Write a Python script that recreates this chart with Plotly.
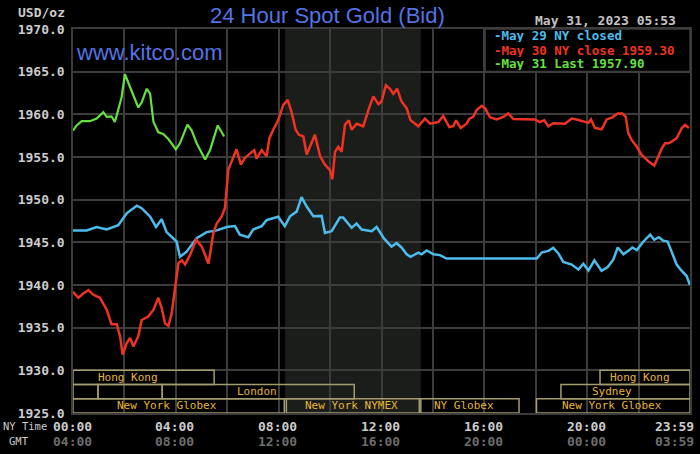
import plotly.graph_objects as go

# hours after midnight NY time
may29_t = [0, 0.53, 0.92, 1.31, 1.76, 2.09, 2.48, 2.67, 3.0, 3.23, 3.45, 3.64, 4.03, 4.16, 4.42,
           4.81, 5.2, 5.59, 5.98, 6.3, 6.49, 6.82, 7.01, 7.34, 7.53, 7.98, 8.24, 8.44, 8.7, 8.89,
           9.09, 9.35, 9.67, 9.8, 10.06, 10.38, 10.51, 10.84, 11.03, 11.23, 11.62, 11.81, 12.11,
           12.39, 12.59, 12.78, 12.98, 13.13, 13.43, 13.56, 13.76, 14.02, 14.27, 14.53, 18.04,
           18.23, 18.49, 18.68, 18.88, 19.07, 19.4, 19.66, 19.85, 20.05, 20.28, 20.56, 20.8,
           21.02, 21.19, 21.41, 21.6, 21.76, 21.93, 22.19, 22.45, 22.61, 22.79, 22.96, 23.13,
           23.29, 23.48, 23.68, 23.87, 24.0]
may29_v = [1946.4, 1946.4, 1946.8, 1946.5, 1947.0, 1948.4, 1949.3, 1949.0, 1948.0, 1946.8, 1947.7,
           1946.2, 1945.1, 1943.3, 1943.9, 1945.5, 1946.2, 1946.4, 1946.8, 1946.9, 1945.9, 1945.6,
           1946.5, 1946.9, 1947.6, 1948.0, 1946.9, 1948.05, 1948.6, 1950.3, 1949.2, 1948.05,
           1948.1, 1946.1, 1946.3, 1947.9, 1947.9, 1946.7, 1947.2, 1946.5, 1946.3, 1946.8, 1945.4,
           1944.5, 1944.9, 1944.4, 1943.6, 1943.3, 1943.8, 1943.6, 1944.05, 1943.6, 1943.5,
           1943.1, 1943.1, 1943.8, 1944.0, 1944.35, 1943.7, 1942.7, 1942.4, 1941.8, 1942.5,
           1941.7, 1942.9, 1941.65, 1942.1, 1943.0, 1944.4, 1943.6, 1944.0, 1944.4, 1944.1,
           1945.1, 1945.9, 1945.3, 1945.6, 1945.2, 1945.1, 1943.8, 1942.4, 1941.65, 1941.05, 1940.0]

may30_t = [0, 0.21, 0.4, 0.6, 0.79, 1.05, 1.31, 1.5, 1.7, 1.83, 1.93, 2.09, 2.22, 2.35, 2.54, 2.67,
           2.93, 3.13, 3.32, 3.45, 3.58, 3.71, 3.84, 3.97, 4.1, 4.23, 4.36, 4.55, 4.79, 5.01, 5.2,
           5.27, 5.46, 5.59, 5.78, 5.91, 6.04, 6.17, 6.36, 6.53, 6.69, 6.88, 7.05, 7.14, 7.34,
           7.53, 7.64, 7.79, 7.98, 8.18, 8.35, 8.5, 8.66, 8.79, 8.96, 9.09, 9.26, 9.41, 9.61, 9.8,
           9.99, 10.09, 10.19, 10.32, 10.45, 10.58, 10.73, 10.84, 11.03, 11.29, 11.49, 11.68,
           11.88, 12.0, 12.17, 12.33, 12.46, 12.61, 12.78, 12.98, 13.13, 13.43, 13.69, 13.89,
           14.21, 14.4, 14.64, 14.79, 14.9, 15.08, 15.31, 15.42, 15.57, 15.7, 15.9, 16.03, 16.22,
           16.48, 16.74, 16.93, 17.13, 17.65, 17.97, 18.16, 18.33, 18.49, 18.68, 19.14, 19.4,
           19.59, 20.05, 20.15, 20.3, 20.56, 20.76, 20.98, 21.19, 21.37, 21.5, 21.6, 21.73,
           21.93, 22.12, 22.38, 22.61, 22.77, 22.9, 23.03, 23.16, 23.29, 23.48, 23.68, 23.81,
           23.96]
may30_v = [1939.2, 1938.5, 1939.0, 1939.4, 1938.85, 1938.5, 1937.1, 1935.4, 1935.4, 1934.0,
           1931.85, 1933.2, 1933.8, 1932.8, 1934.0, 1935.9, 1936.3, 1937.1, 1938.5, 1937.3,
           1935.5, 1935.2, 1936.7, 1939.4, 1942.55, 1942.9, 1942.4, 1943.5, 1945.3, 1944.5,
           1942.9, 1942.5, 1946.1, 1947.2, 1948.0, 1949.0, 1953.5, 1954.5, 1955.9, 1954.1,
           1954.9, 1955.4, 1955.8, 1954.8, 1955.8, 1955.1, 1957.2, 1958.2, 1959.3, 1961.1,
           1961.7, 1960.3, 1958.2, 1957.6, 1957.4, 1955.3, 1956.6, 1957.6, 1955.1, 1954.1,
           1953.5, 1952.4, 1955.6, 1956.2, 1955.6, 1958.8, 1959.3, 1958.2, 1958.9, 1958.6,
           1960.5, 1962.1, 1961.2, 1961.5, 1963.4, 1963.0, 1962.4, 1963.0, 1961.5, 1960.7,
           1959.3, 1958.6, 1959.5, 1958.9, 1959.1, 1959.8, 1958.5, 1958.6, 1959.3, 1958.4,
           1958.9, 1959.5, 1959.7, 1960.5, 1961.0, 1960.7, 1959.65, 1959.4, 1959.7, 1960.1,
           1959.45, 1959.45, 1959.4, 1959.1, 1959.3, 1958.6, 1958.95, 1958.9, 1959.5, 1959.4,
           1959.0, 1959.4, 1958.4, 1958.25, 1959.4, 1959.65, 1960.1, 1960.1, 1959.7, 1957.8,
           1957.0, 1956.2, 1955.25, 1954.5, 1954.0, 1955.1, 1956.0, 1956.6, 1956.6, 1956.8,
           1957.2, 1958.4, 1958.75, 1958.4]

may31_t = [0, 0.14, 0.34, 0.66, 0.92, 1.18, 1.31, 1.5, 1.63, 1.76, 1.89, 2.02, 2.22, 2.41, 2.54,
           2.67, 2.87, 3.0, 3.13, 3.32, 3.51, 3.71, 4.0, 4.16, 4.45, 4.62, 4.81, 5.14, 5.33, 5.63,
           5.78, 5.88]
may31_v = [1958.1, 1958.7, 1959.2, 1959.2, 1959.5, 1960.25, 1959.7, 1959.75, 1959.1, 1960.4,
           1962.0, 1964.7, 1963.2, 1962.0, 1960.8, 1961.4, 1963.0, 1962.4, 1959.1, 1957.9,
           1957.7, 1957.1, 1955.9, 1956.6, 1958.8, 1958.1, 1956.6, 1954.7, 1955.8, 1958.7,
           1957.9, 1957.4]

legend_labels = ["-May 29 NY closed", "-May 30 NY close 1959.30", "-May 31 Last 1957.90"]
ny_ticks = ["00:00", "04:00", "08:00", "12:00", "16:00", "20:00", "23:59"]
gmt_ticks = ["04:00", "08:00", "12:00", "16:00", "20:00", "00:00", "03:59"]
tick_hours = [0, 4, 8, 12, 16, 20, 24]

# (name, start hour, end hour, row)
sessions = [
    ("Hong Kong", 0, 5.49, 0), ("Hong Kong", 20.5, 24, 0),
    ("", 0, 0.97, 1), ("", 0.97, 3.47, 1), ("London", 3.47, 10.94, 1), ("Sydney", 18.98, 24, 1),
    ("New York Globex", 0, 8.22, 2), ("New York NYMEX", 8.3, 13.47, 2),
    ("NY Globex", 13.53, 17.35, 2), ("New York Globex", 18.03, 24, 2),
]
label_x = [2.14, 22.05, None, None, 7.16, 20.96, 3.66, 10.85, 15.19, 20.96]

BLUE = "#4cbcec"
RED = "#ee3322"
GREEN = "#66e040"
GRID = "#3c3c3c"
MONO = "DejaVu Sans Mono"

fig = go.Figure()
fig.add_trace(go.Scatter(x=may29_t, y=may29_v, mode="lines", line=dict(color=BLUE, width=2.5)))
fig.add_trace(go.Scatter(x=may30_t, y=may30_v, mode="lines", line=dict(color=RED, width=2.5)))
fig.add_trace(go.Scatter(x=may31_t, y=may31_v, mode="lines", line=dict(color=GREEN, width=2.2)))

shapes = []
# NYMEX hours shading
shapes.append(dict(type="rect", xref="x", yref="y", x0=8.25, x1=13.53, y0=1925, y1=1970,
                   fillcolor="#1b1d1b", line=dict(width=0), layer="below"))
row_h = 5 / 3
annotations = []
for (name, s, e, row), lx in zip(sessions, label_x):
    top = 1930 - row * row_h
    shapes.append(dict(type="rect", xref="x", yref="y", x0=s, x1=e, y0=top - row_h, y1=top,
                       line=dict(color="#a39c6c", width=1.5)))
    if name:
        annotations.append(dict(x=lx, y=top - row_h / 2, xref="x", yref="y", text=name,
                                showarrow=False, font=dict(family=MONO, size=11, color="#e6b535")))

# legend box
shapes.append(dict(type="rect", xref="paper", yref="paper", x0=0.668, x1=1, y0=0.889, y1=1,
                   fillcolor="black", line=dict(color=GRID, width=1.5)))
for lbl, col, yy in zip(legend_labels, [BLUE, RED, GREEN], [0.982, 0.945, 0.909]):
    annotations.append(dict(x=0.679, y=yy, xref="paper", yref="paper", text=lbl, showarrow=False,
                            xanchor="left", yanchor="middle", height=13,
                            font=dict(family=MONO, size=12.5, color=col, weight="bold")))

# time axis labels
for h, ny, gmt in zip(tick_hours, ny_ticks, gmt_ticks):
    anchor = "right" if h == 24 else "center"
    shift = 6 if h == 24 else -1
    annotations.append(dict(x=h, y=-0.034, xref="x", yref="paper", text=ny, showarrow=False,
                            xanchor=anchor, xshift=shift, yanchor="middle", height=14,
                            font=dict(family=MONO, size=13, color="#cccccc", weight="bold")))
    annotations.append(dict(x=h, y=-0.073, xref="x", yref="paper", text=gmt, showarrow=False,
                            xanchor=anchor, xshift=shift, yanchor="middle", height=14,
                            font=dict(family=MONO, size=13, color="#6c6c6c", weight="bold")))
annotations.append(dict(x=-0.117, y=-0.034, xref="paper", yref="paper", text="NY Time",
                        showarrow=False, xanchor="left", yanchor="middle", height=14,
                        font=dict(family=MONO, size=10.5, color="#cccccc")))
annotations.append(dict(x=-0.087, y=-0.073, xref="paper", yref="paper", text="GMT",
                        showarrow=False, xanchor="center", yanchor="middle", height=14,
                        font=dict(family=MONO, size=10.5, color="#cccccc")))

# header texts
annotations.append(dict(x=0.413, y=1.036, xref="paper", yref="paper", text="24 Hour Spot Gold (Bid)",
                        showarrow=False, xanchor="center", yanchor="middle",
                        font=dict(family="Liberation Sans", size=22, color="#5672e4")))
annotations.append(dict(x=0.002, y=0.94, xref="paper", yref="paper", text="www.kitco.com",
                        showarrow=False, xanchor="left", yanchor="middle",
                        font=dict(family="Liberation Sans", size=22, color="#5672e4")))
annotations.append(dict(x=-0.0097, y=1.042, xref="paper", yref="paper", text="USD/oz",
                        showarrow=False, xanchor="right", yanchor="middle",
                        font=dict(family=MONO, size=13, color="#cccccc", weight="bold")))
annotations.append(dict(x=0.9805, y=1.021, xref="paper", yref="paper", text="May 31, 2023 05:53",
                        showarrow=False, xanchor="right", yanchor="middle",
                        font=dict(family=MONO, size=13, color="#c4c4c4", weight="bold")))

fig.update_layout(
    width=700, height=454,
    margin=dict(l=73, r=10, t=29, b=41),
    paper_bgcolor="black", plot_bgcolor="black",
    showlegend=False,
    shapes=shapes, annotations=annotations,
    xaxis=dict(range=[0, 24], tick0=0, dtick=2, showgrid=True, gridcolor=GRID, gridwidth=1.5,
               showticklabels=False, zeroline=False, showline=True, linecolor=GRID,
               linewidth=1.5, mirror=True, fixedrange=True, automargin=False),
    yaxis=dict(range=[1925, 1970], tick0=1925, dtick=5, tickformat=".1f", showgrid=True,
               gridcolor=GRID, gridwidth=1.5, zeroline=False, showline=True, linecolor=GRID,
               linewidth=1.5, mirror=True, ticks="", ticklabelstandoff=4, automargin=False,
               fixedrange=True,
               tickfont=dict(family=MONO, size=13, color="#cccccc", weight="bold")),
)

# page body has a default 8px margin; drop it so the 700x454 figure fills the window
fig.write_html("out.html", config={"displayModeBar": False},
               post_script="document.body.style.margin = '0';")
